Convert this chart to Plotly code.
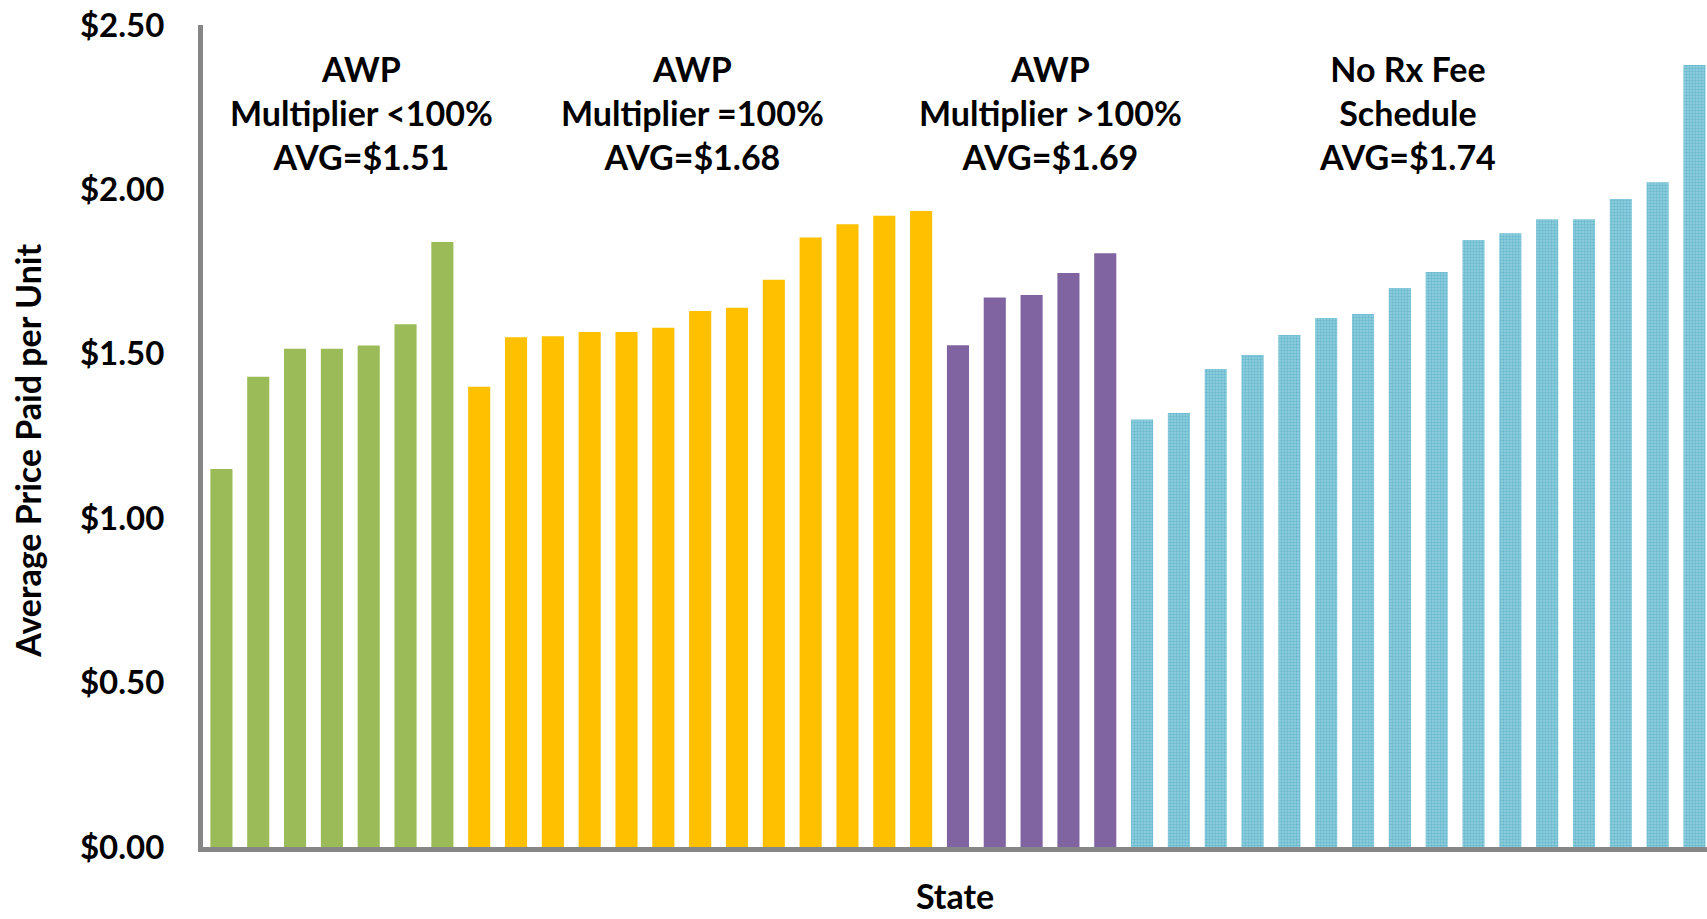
import plotly.graph_objects as go

# Values (average price paid per unit, by state, grouped by fee schedule type)
awp_lt100 = [1.15, 1.43, 1.515, 1.515, 1.525, 1.59, 1.84]
awp_eq100 = [1.40, 1.55, 1.553, 1.566, 1.566, 1.579, 1.63, 1.64, 1.725, 1.854, 1.894, 1.92, 1.934]
awp_gt100 = [1.526, 1.671, 1.679, 1.746, 1.806]
no_fee = [1.30, 1.32, 1.454, 1.496, 1.557, 1.609, 1.621, 1.70, 1.749, 1.846, 1.867,
          1.909, 1.909, 1.971, 2.022, 2.378]

group_values = [awp_lt100, awp_eq100, awp_gt100, no_fee]
group_names = ["AWP Multiplier <100%", "AWP Multiplier =100%", "AWP Multiplier >100%", "No Rx Fee Schedule"]
group_labels = [
    "AWP<br>Multiplier &lt;100%<br>AVG=$1.51",
    "AWP<br>Multiplier =100%<br>AVG=$1.68",
    "AWP<br>Multiplier &gt;100%<br>AVG=$1.69",
    "No Rx Fee<br>Schedule<br>AVG=$1.74",
]
label_x = [3.8, 12.78, 22.5, 32.2]
colors = ["#9BBB59", "#FFC000", "#8064A2", "#4BACC6"]

ytick_vals = [0, 0.5, 1.0, 1.5, 2.0, 2.5]
ytick_text = ["$" + f"{v:.2f}" for v in ytick_vals]
y_title = "Average Price Paid per Unit"
x_title = "State"

FONT = "Lato"

fig = go.Figure()
start = 0
for vals, name, col in zip(group_values, group_names, colors):
    xs = list(range(start, start + len(vals)))
    start += len(vals)
    marker = dict(color=col, line=dict(width=0))
    if name.startswith("No Rx"):
        marker = dict(color="#8FCEDE", line=dict(width=0),
                      pattern=dict(shape=".", fgcolor="#3FA3BE", bgcolor="#93D0DF",
                                   size=3, solidity=0.5, fillmode="overlay"))
    fig.add_trace(go.Bar(x=xs, y=vals, name=name, marker=marker, showlegend=False))

for txt, lx in zip(group_labels, label_x):
    fig.add_annotation(x=lx, y=2.235, xref="x", yref="y", text=txt, showarrow=False,
                       xanchor="center", yanchor="middle",
                       font=dict(family=FONT, size=34, color="black", weight="bold"))

# y-axis title placed as rotated text (sits slightly below the axis midpoint, as in the original)
fig.add_annotation(x=0, y=0.482, xref="paper", yref="paper", text=y_title, showarrow=False,
                   textangle=-90, xanchor="center", yanchor="middle", xshift=-175,
                   font=dict(family=FONT, size=34, color="black", weight="bold"))

total = start
fig.update_layout(
    width=1707, height=919,
    margin=dict(l=203, r=0, t=25, b=72, autoexpand=False),
    paper_bgcolor="white", plot_bgcolor="white",
    barmode="overlay", bargap=0.4,
    font=dict(family=FONT, color="black"),
    xaxis=dict(
        range=[-0.5, total - 0.5 - 0.16], automargin=False,
        showticklabels=False, ticks="", showgrid=False, zeroline=False,
        showline=True, linecolor="#868686", linewidth=5,
        title=dict(text=x_title, font=dict(family=FONT, size=34, weight="bold"), standoff=36),
    ),
    yaxis=dict(
        range=[0, 2.5], tickvals=ytick_vals, ticktext=ytick_text, automargin=False,
        tickfont=dict(family=FONT, size=33, weight="bold"),
        ticks="", ticklabelstandoff=27, ticklabeloverflow="allow",
        showgrid=False, zeroline=False,
        showline=True, linecolor="#868686", linewidth=5,
    ),
)

fig.write_html("out.html", config={"displayModeBar": False},
               post_script="document.body.style.margin='0px';")
